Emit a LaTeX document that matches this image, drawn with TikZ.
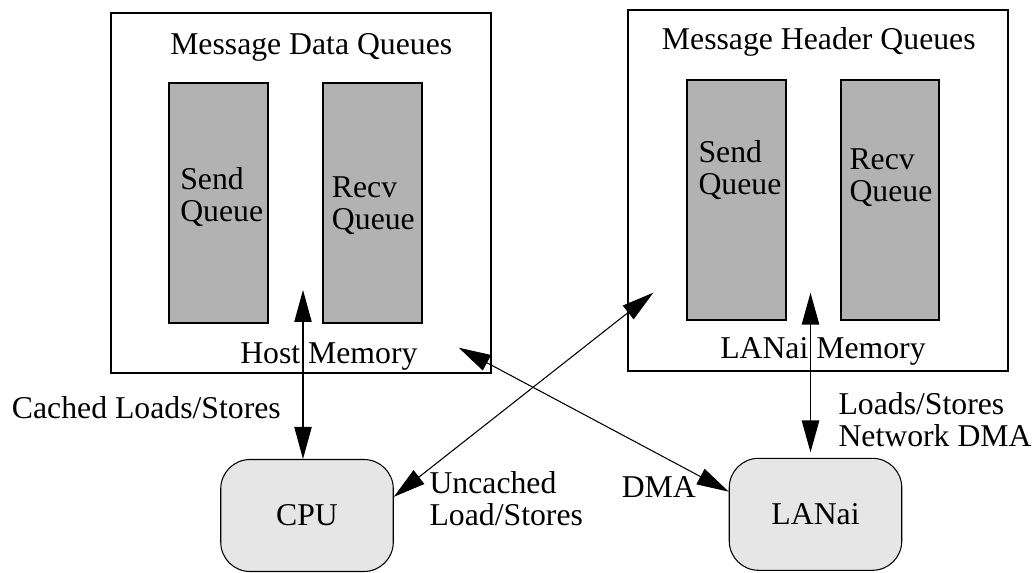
\documentclass[tikz,border=0pt]{standalone}
\usepackage{fontspec}
\setmainfont{Liberation Serif}
\usetikzlibrary{arrows.meta}
\definecolor{qgray}{RGB}{178,178,178}
\definecolor{ugray}{RGB}{230,230,230}

\begin{document}
\begin{tikzpicture}[x=0.75pt,y=-0.75pt]
	\tikzset{every node/.style={font=\fontsize{23.8}{24}\selectfont, inner sep=0pt}}
	\tikzset{membox/.style={draw, line width=1.5pt, minimum width=285pt, minimum height=270pt}}
	\tikzset{queue/.style={draw, line width=1.4pt, fill=qgray, minimum width=74pt, minimum height=180pt}}
	\tikzset{unit/.style={draw, line width=0.8pt, fill=ugray, rounded corners=22pt, minimum width=129.4pt, minimum height=84pt}}
	\tikzset{link/.style={line width=0.8pt, {Triangle[length=24pt,width=13pt]}-{Triangle[length=24pt,width=13pt]}}}
	\tikzset{txt/.style={anchor=base west, align=left}}
	\useasboundingbox (0,0) rectangle (1034,573);
	% memories
	\node[membox] (hostmem) at (300.7,193) {};
	\node[membox] (lanmem) at (818.2,190.5) {};
	\node[txt] (hosttitle) at (170,55) {Message Data Queues};
	\node[txt] (lantitle) at (661.7,50) {Message Header Queues};
	\node[txt] (hostname) at (240,363) {Host Memory};
	\node[txt] (lanname) at (720,358) {LANai Memory};
	% queues (base = last line)
	\node[queue] (hsend) at (218.5,202.7) {};
	\node[queue] (hrecv) at (372.5,202.7) {};
	\node[queue] (lsend) at (736.4,200) {};
	\node[queue] (lrecv) at (890,200) {};
	\node[txt] (hsendtxt) at (180,221.7) {Send\\Queue};
	\node[txt] (hrecvtxt) at (331.7,230) {Recv\\Queue};
	\node[txt] (lsendtxt) at (698.3,195) {Send\\Queue};
	\node[txt] (lrecvtxt) at (849.3,201.7) {Recv\\Queue};
	% processors
	\node[unit] (cpu) at (307,515.5) {CPU};
	\node[unit] (lanai) at (815.5,514.3) {LANai};
	% links
	\coordinate (hostport) at (303,290);
	\coordinate (lanport) at (810.5,292.7);
	\coordinate (uncport) at (653.3,292.7);
	\coordinate (dmaport) at (458.7,347.7);
	\draw[link] (hostport) -- (hostport |- cpu.north);
	\draw[link, line width=1.3pt, shorten >=4pt] (lanport) -- (lanport |- lanai.north);
	\draw[link] (uncport) -- ([yshift=14pt]cpu.east);
	\draw[link] (dmaport) -- ([yshift=17pt]lanai.west);
	\node[txt] (cachedtxt) at (11.7,418) {Cached Loads/Stores};
	\node[txt] (uncachedtxt) at (429.3,525.7) {Uncached\\Load/Stores};
	\node[txt] (dmatxt) at (621.5,497) {DMA};
	\node[txt] (lantxt) at (838.3,446) {Loads/Stores\\Network DMA};
\end{tikzpicture}
\end{document}
